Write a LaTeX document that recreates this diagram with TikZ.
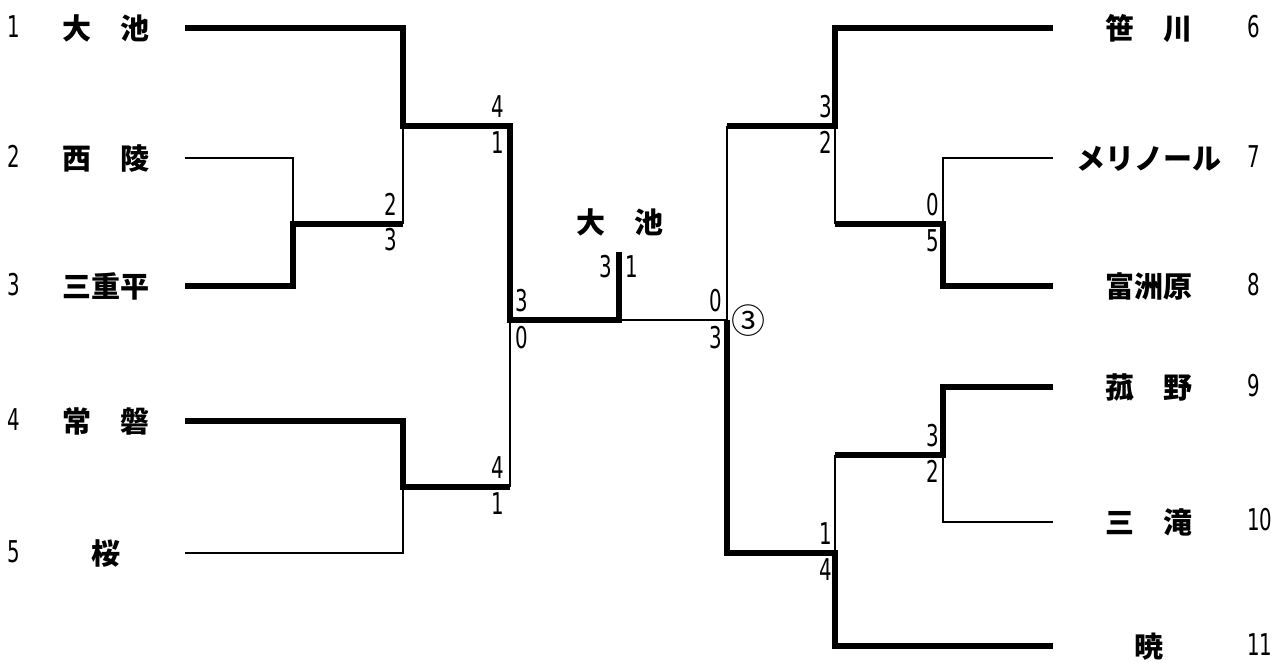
\documentclass[tikz,border=0pt]{standalone}
\usepackage{fontspec}
\newfontfamily\jpfont{Noto Sans CJK JP}
\newfontfamily\numfont[FakeStretch=0.66]{DejaVu Sans}
\tikzset{
  win/.style={line width=5.5pt, line join=miter},
  lose/.style={line width=2.5pt, line join=miter},
  nm/.style={font=\jpfont\bfseries\fontsize{29}{29}\selectfont, inner sep=0, anchor=base},
  sc/.style={font=\numfont\fontsize{30}{30}\selectfont, inner sep=0},
  lab/.style={font=\numfont\fontsize{30}{30}\selectfont, inner sep=0, anchor=base},
  circ/.style={font=\jpfont\fontsize{34}{34}\selectfont, inner sep=0, anchor=base}
}
\begin{document}
\begin{tikzpicture}[x=1pt,y=-1pt]
\useasboundingbox (0,0) rectangle (1287,662);
% ---- team labels left
\node[lab] (k1) at (14,37) {1};
\node[lab] (k2) at (14,167) {2};
\node[lab] (k3) at (14,295) {3};
\node[lab] (k4) at (14,430) {4};
\node[lab] (k5) at (14,562) {5};
\node[nm] (n1) at (106,39) {大　池};
\node[nm] (n2) at (106,169) {西　陵};
\node[nm] (n3) at (106,297) {三重平};
\node[nm] (n4) at (106,432) {常　磐};
\node[nm] (n5) at (106,564) {桜};
% ---- team labels right
\node[nm] (n6) at (1149,39) {笹　川};
\node[nm] (n7) at (1149,169) {メリノール};
\node[nm] (n8) at (1149,297) {富洲原};
\node[nm] (n9) at (1149,398) {菰　野};
\node[nm] (n10) at (1149,533) {三　滝};
\node[nm] (n11) at (1149,657) {暁};
\node[lab, anchor=base west] (k6) at (1247,37) {6};
\node[lab, anchor=base west] (k7) at (1247,167) {7};
\node[lab, anchor=base west] (k8) at (1247,295) {8};
\node[lab, anchor=base west] (k9) at (1247,396) {9};
\node[lab, anchor=base west] (k10) at (1247,530) {10};
\node[lab, anchor=base west] (k11) at (1247,655) {11};
% ---- champion
\node[nm] (champ) at (620,233) {大　池};
\node[circ] (maru) at (748,333) {③};
% ---- coordinates left
\coordinate (A1) at (185,28);  \coordinate (A1r) at (403,28);
\coordinate (A2) at (185,158); \coordinate (A2r) at (293,158);
\coordinate (A3) at (185,286); \coordinate (A3r) at (293,286);
\coordinate (J23) at (293,224); \coordinate (J23r) at (403,224);
\coordinate (J123) at (403,126); \coordinate (J123r) at (510,126);
\coordinate (A4) at (185,421); \coordinate (A4r) at (403,421);
\coordinate (A5) at (185,553); \coordinate (A5r) at (403,553);
\coordinate (J45) at (403,487); \coordinate (J45r) at (510,487);
\coordinate (L) at (510,320); \coordinate (C) at (619,320);
\coordinate (Ctop) at (619,252); \coordinate (R) at (727,320);
% ---- coordinates right
\coordinate (B6) at (1053,28);  \coordinate (B6l) at (835,28);
\coordinate (B7) at (1053,158); \coordinate (B7l) at (943,158);
\coordinate (B8) at (1053,286); \coordinate (B8l) at (943,286);
\coordinate (J78) at (943,224); \coordinate (J78l) at (835,224);
\coordinate (J678) at (835,126); \coordinate (J678l) at (727,126);
\coordinate (B9) at (1053,387); \coordinate (B9l) at (943,387);
\coordinate (B10) at (1053,522); \coordinate (B10l) at (943,522);
\coordinate (J910) at (943,455); \coordinate (J910l) at (835,455);
\coordinate (B11) at (1053,646); \coordinate (B11l) at (835,646);
\coordinate (J911) at (835,553); \coordinate (J911l) at (727,553);
% ---- lines left
\draw[lose] (A2) -- (A2r) -- (J23);
\draw[lose] (J23r) -- (J123);
\draw[lose] (A5) -- (A5r) -- (J45);
\draw[lose] (J45r) -- (L);
\draw[lose] (C) -- (R);
\draw[win] (A1) -- (A1r) -- (J123) -- (J123r) -- (L) -- (C) -- (Ctop);
\draw[win] (A3) -- (A3r) -- (J23) -- (J23r);
\draw[win] (A4) -- (A4r) -- (J45) -- (J45r);
% ---- lines right
\draw[lose] (R) -- (J678l);
\draw[lose] (J678) -- (J78l);
\draw[lose] (J78) -- (B7l) -- (B7);
\draw[lose] (J911) -- (J910l);
\draw[lose] (J910) -- (B10l) -- (B10);
\draw[win] (R) -- (J911l) -- (J911) -- (B11l) -- (B11);
\draw[win] (J678l) -- (J678) -- (B6l) -- (B6);
\draw[win] (J78l) -- (J78) -- (B8l) -- (B8);
\draw[win] (J910l) -- (J910) -- (B9l) -- (B9);
% ---- scores
\node[sc, anchor=south east] (s1a) at (397,216) {2};
\node[sc, anchor=north east] (s1b) at (397,228) {3};
\node[sc, anchor=south east] (s2a) at (504,118) {4};
\node[sc, anchor=north east] (s2b) at (504,131) {1};
\node[sc, anchor=south east] (s3a) at (504,479) {4};
\node[sc, anchor=north east] (s3b) at (504,492) {1};
\node[sc, anchor=south west] (s4a) at (515,312) {3};
\node[sc, anchor=north west] (s4b) at (515,326) {0};
\node[sc, anchor=east] (s5a) at (612,267) {3};
\node[sc, anchor=west] (s5b) at (625,267) {1};
\node[sc, anchor=south east] (s6a) at (722,312) {0};
\node[sc, anchor=north east] (s6b) at (722,326) {3};
\node[sc, anchor=south east] (s7a) at (832,118) {3};
\node[sc, anchor=north east] (s7b) at (832,131) {2};
\node[sc, anchor=south east] (s8a) at (939,216) {0};
\node[sc, anchor=north east] (s8b) at (939,229) {5};
\node[sc, anchor=south east] (s9a) at (939,447) {3};
\node[sc, anchor=north east] (s9b) at (939,460) {2};
\node[sc, anchor=south east] (s10a) at (832,545) {1};
\node[sc, anchor=north east] (s10b) at (832,558) {4};
\end{tikzpicture}
\end{document}
